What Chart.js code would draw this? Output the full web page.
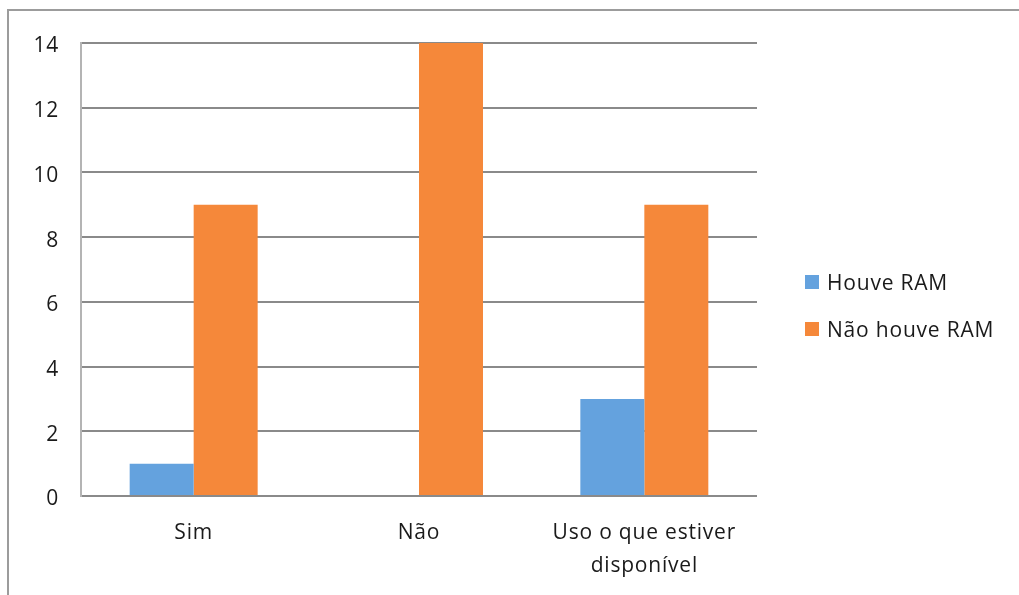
<!DOCTYPE html>
<html lang="pt">
<head>
<meta charset="utf-8">
<title>Houve RAM</title>
<script src="https://cdn.jsdelivr.net/npm/chart.js@4/dist/chart.umd.min.js"></script>
<style>
  html, body { margin: 0; padding: 0; background: #fff; overflow: hidden; }
  #frame {
    position: absolute; left: 7px; top: 9px; width: 1100px; height: 700px;
    border-top: 2px solid #9c9c9c; border-left: 2px solid #9c9c9c;
  }
  #wrap { position: absolute; left: 0; top: 0; width: 1019px; height: 595px; }
  #legend { position: absolute; left: 805px; top: 269px; font: 21px "Open Sans", sans-serif;
            letter-spacing: 0.8px; color: #1a1a1a; }
  #legend .item { display: flex; align-items: center; height: 26px; margin-bottom: 21px; white-space: nowrap; }
  #legend .sw { width: 14px; height: 14px; margin-right: 8px; flex: none; }
</style>
</head>
<body>
<div id="frame"></div>
<div id="wrap"><canvas id="c" width="1019" height="595"></canvas></div>
<div id="legend"></div>
<script>
// Categories, series and axis ticks
const categories = ['Sim', 'Não', ['Uso o que estiver', 'disponível']];
const seriesNames = ['Houve RAM', 'Não houve RAM'];
const houveRam = [1, 0, 3];
const naoHouveRam = [9, 14, 9];
const yTicks = [0, 2, 4, 6, 8, 10, 12, 14];
const seriesColors = ['#64a2de', '#f5883a'];

const FONT = { family: '"Open Sans", sans-serif', size: 21 };
const SPACING = '0.8px';

// Wide tracking for all canvas text
const tracking = {
  id: 'tracking',
  beforeUpdate(chart) { chart.ctx.letterSpacing = SPACING; },
  beforeDraw(chart) { chart.ctx.letterSpacing = SPACING; }
};

const chart = new Chart(document.getElementById('c'), {
  type: 'bar',
  data: {
    labels: categories,
    datasets: [
      { label: seriesNames[0], data: houveRam, backgroundColor: seriesColors[0] },
      { label: seriesNames[1], data: naoHouveRam, backgroundColor: seriesColors[1] }
    ]
  },
  options: {
    responsive: false,
    animation: false,
    devicePixelRatio: 1,
    layout: { padding: { left: 0, top: 43, right: 262, bottom: 0 } },
    datasets: { bar: { categoryPercentage: 0.568, barPercentage: 1, borderWidth: 0 } },
    plugins: { legend: { display: false }, tooltip: { enabled: false } },
    scales: {
      x: {
        grid: { display: false },
        border: { display: false },
        ticks: { color: '#1a1a1a', font: { ...FONT, lineHeight: 1.57 }, padding: 13, maxRotation: 0, autoSkip: false },
        afterFit(scale) { scale.height = 99; }
      },
      y: {
        min: 0, max: 14,
        afterBuildTicks(scale) { scale.ticks = yTicks.map(v => ({ value: v })); },
        grid: { color: '#8a8a8a', lineWidth: 2, drawTicks: false },
        border: { display: true, color: '#b4b4b4', width: 2 },
        ticks: { color: '#1a1a1a', font: FONT, padding: 22, labelOffset: 3.5 },
        afterFit(scale) { scale.width = 81; }
      }
    }
  },
  plugins: [tracking]
});

// Legend built from the chart's datasets
const legendEl = document.getElementById('legend');
chart.data.datasets.forEach(ds => {
  const item = document.createElement('div');
  item.className = 'item';
  const sw = document.createElement('span');
  sw.className = 'sw';
  sw.style.background = ds.backgroundColor;
  const txt = document.createElement('span');
  txt.textContent = ds.label;
  item.appendChild(sw);
  item.appendChild(txt);
  legendEl.appendChild(item);
});
</script>
</body>
</html>
